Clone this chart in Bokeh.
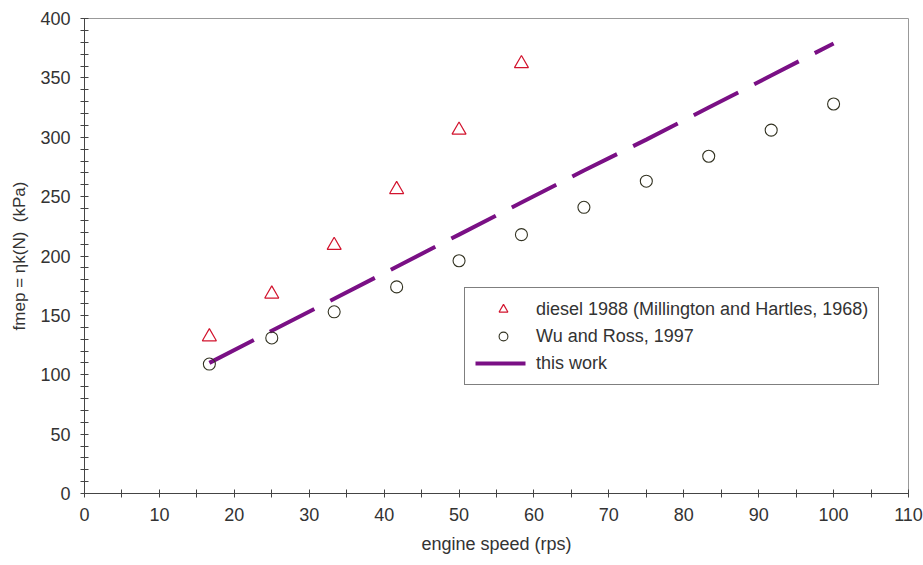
from bokeh.plotting import figure
from bokeh.models import Range1d, FixedTicker, Legend, LegendItem
from bokeh.embed import file_html
from bokeh.resources import INLINE

# data
diesel_x = [16.67, 25.0, 33.33, 41.67, 50.0, 58.33]
diesel_y = [132, 168, 209, 256, 306, 362]

wu_x = [16.67, 25.0, 33.33, 41.67, 50.0, 58.33, 66.67, 75.0, 83.33, 91.67, 100.0]
wu_y = [109, 131, 153, 174, 196, 218, 241, 263, 284, 306, 328]

work_x = [16.67, 25.0, 33.33, 41.67, 50.0, 58.33, 66.67, 75.0, 83.33, 91.67, 100.0]
work_y = [110, 137, 164, 191, 218, 245, 272, 298, 325, 352, 379]

x_ticks = [0, 10, 20, 30, 40, 50, 60, 70, 80, 90, 100, 110]
y_ticks = [0, 50, 100, 150, 200, 250, 300, 350, 400]

FONT = "Liberation Sans"
TXT = "#333333"
AX = "#444444"

p = figure(width=923, height=565, output_backend="svg", toolbar_location=None,
           x_range=Range1d(0, 110), y_range=Range1d(0, 400),
           min_border_left=84, min_border_right=15, min_border_top=18, min_border_bottom=72)
p.xgrid.visible = False
p.ygrid.visible = False
p.outline_line_color = "#999999"
p.outline_line_width = 1
p.background_fill_color = "white"
p.border_fill_color = "white"

for ax in (p.xaxis[0], p.yaxis[0]):
    ax.axis_line_color = AX
    ax.major_tick_line_color = AX
    ax.minor_tick_line_color = AX
    ax.major_tick_in = 4
    ax.major_tick_out = 4
    ax.minor_tick_in = 4
    ax.minor_tick_out = 4
    ax.major_label_text_font = FONT
    ax.major_label_text_font_size = "18px"
    ax.major_label_text_color = TXT
    ax.axis_label_text_font = FONT
    ax.axis_label_text_color = TXT
    ax.axis_label_text_font_style = "normal"

p.xaxis.ticker = FixedTicker(ticks=x_ticks, minor_ticks=[v + 5 for v in x_ticks[:-1]])
p.yaxis.ticker = FixedTicker(ticks=y_ticks, minor_ticks=[v for v in range(0, 401, 10) if v % 50])
p.xaxis.major_label_standoff = 10
p.yaxis.major_label_standoff = 10
p.xaxis.axis_label = "engine speed (rps)"
p.yaxis.axis_label = "fmep = ηk(N)\u00a0\u00a0(kPa)"
p.xaxis.axis_label_text_font_size = "18px"
p.yaxis.axis_label_text_font_size = "17px"
p.xaxis.axis_label_standoff = 10
p.yaxis.axis_label_standoff = 8

r_line = p.line(work_x, work_y, line_color="#7a1085", line_width=4, line_dash="50 18")
r_tri = p.scatter(diesel_x, diesel_y, marker="triangle", size=14, fill_color=None,
                  line_color="#d2142e", line_width=1.2)
r_circ = p.scatter(wu_x, wu_y, marker="circle", size=12, fill_color=None,
                   line_color="#333322", line_width=1.1)

legend = Legend(items=[
    LegendItem(label="diesel 1988 (Millington and Hartles, 1968)", renderers=[r_tri]),
    LegendItem(label="Wu and Ross, 1997", renderers=[r_circ]),
    LegendItem(label="this work", renderers=[r_line]),
], location=(380, 108))
legend.border_line_color = "black"
legend.border_line_width = 1
legend.background_fill_alpha = 1
legend.padding = 10
legend.margin = 0
legend.spacing = 5
legend.glyph_width = 56
legend.glyph_height = 22
legend.label_height = 22
legend.label_standoff = 5
legend.label_text_font = FONT
legend.label_text_font_size = "18px"
legend.label_text_color = TXT
p.add_layout(legend)

open("out.html", "w").write(file_html(p, INLINE))
